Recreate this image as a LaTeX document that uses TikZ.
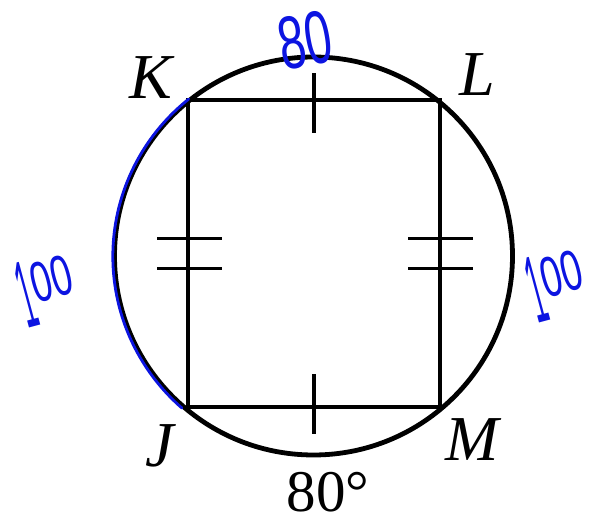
\documentclass[tikz,border=0pt]{standalone}
\usepackage{fontspec}
\setmainfont{Liberation Serif}
\newfontfamily\handfont{Liberation Sans}
\usepackage{graphicx}
\usetikzlibrary{calc}
\definecolor{pen}{RGB}{12,20,225}
\newcommand{\handhundred}{\scalebox{0.45}[1.6]{1}\raisebox{22pt}{\scalebox{0.62}[0.95]{00}}}
\begin{document}
\begin{tikzpicture}[x=1pt,y=1pt,
  circ/.style={line width=4.8pt},
  sides/.style={line width=4.2pt},
  tick/.style={line width=3.6pt},
  vlabel/.style={inner sep=0pt, font=\fontsize{64}{64}\selectfont\itshape},
  arclabel/.style={inner sep=0pt, font=\fontsize{59}{59}\selectfont},
  hand/.style={inner sep=0pt, text=pen, font=\handfont\fontsize{60}{60}\selectfont},
  penline/.style={draw=pen, line width=2.8pt, line cap=round}]
\useasboundingbox (0,0) rectangle (589,522);
\fill[white] (0,0) rectangle (589,522);
\coordinate (O) at (313.5,266);
\coordinate (K) at (188,422);
\coordinate (L) at (440,422);
\coordinate (J) at (188,115);
\coordinate (M) at (440,115);
% circle and inscribed quadrilateral
\draw[circ] (O) circle[radius=199];
\draw[sides, line join=miter] (K) -- (L) -- (M) -- (J) -- cycle;
% single ticks on KL and JM
\coordinate (kl) at ($(K)!0.5!(L)$);
\coordinate (jm) at ($(J)!0.5!(M)$);
\draw[tick] ([yshift=-33]kl) -- ([yshift=27]kl);
\draw[tick] ([yshift=-27]jm) -- ([yshift=33]jm);
% double ticks on KJ and LM
\coordinate (kj) at ($(K)!0.5!(J)$);
\coordinate (lm) at ($(L)!0.5!(M)$);
\foreach \d in {-15,15}{
  \draw[tick] ([xshift=-31,yshift=\d]kj) -- ([xshift=34,yshift=\d]kj);
  \draw[tick] ([xshift=-32,yshift=\d]lm) -- ([xshift=33,yshift=\d]lm);
}
% vertex labels
\node[vlabel] (lK) at (151,444) {K};
\node[vlabel] (lL) at (477,447) {L};
\node[vlabel] (lJ) at (160,76) {J};
\node[vlabel] (lM) at (472,82) {M};
\node[arclabel] (arc) at (328,30) {80°};
% handwritten annotations
\draw[penline] (O) ++(128.5:200.5) arc[start angle=128.5, end angle=229, radius=201];
\node[hand, rotate=10] (h80) at (305,482) {\scalebox{0.8}[1.25]{80}};
\node[hand, rotate=15] (h100l) at (46,233) {\handhundred};
\node[hand, rotate=15] (h100r) at (556,238) {\handhundred};
\end{tikzpicture}
\end{document}
